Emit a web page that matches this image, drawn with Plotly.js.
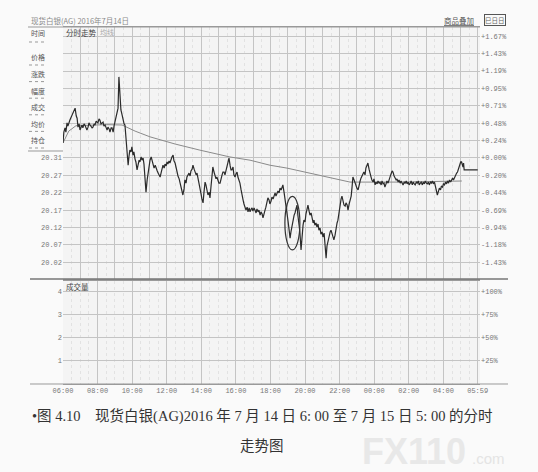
<!DOCTYPE html>
<html>
<head>
<meta charset="utf-8">
<script src="https://cdn.plot.ly/plotly-3.0.1.min.js"></script>
<style>
html,body{margin:0;padding:0;background:#fafafa;}
#chart{width:538px;height:472px;}
</style>
</head>
<body>
<div id="chart"></div>
<script>
// ---------- data ----------
const chartTitle = "现货白银(AG) 2016年7月14日";
const basePrice = 20.31;

const priceTimes = ["06:00","06:03","06:07","06:10","06:14","06:17","06:24","06:31","06:35","06:42","06:46","06:49","06:52","06:56","06:59","07:03","07:06","07:09","07:13","07:16","07:20","07:23","07:27","07:30","07:34","07:38","07:41","07:44","07:48","07:51","07:55","07:58","08:01","08:05","08:08","08:12","08:15","08:19","08:22","08:26","08:30","08:33","08:36","08:40","08:43","08:47","08:50","08:54","08:57","09:00","09:04","09:07","09:11","09:14","09:18","09:21","09:25","09:28","09:32","09:35","09:39","09:42","09:46","09:49","09:52","09:56","09:59","10:03","10:06","10:10","10:13","10:17","10:20","10:24","10:27","10:31","10:34","10:38","10:41","10:45","10:48","10:52","10:55","10:59","11:02","11:06","11:09","11:13","11:16","11:20","11:23","11:27","11:30","11:34","11:37","11:41","11:44","11:47","11:51","11:54","11:58","12:01","12:04","12:08","12:11","12:15","12:18","12:22","12:25","12:29","12:32","12:36","12:39","12:43","12:46","12:50","12:53","12:56","13:00","13:03","13:07","13:10","13:14","13:17","13:21","13:24","13:28","13:31","13:35","13:38","13:42","13:45","13:49","13:52","13:55","13:59","14:02","14:06","14:09","14:13","14:16","14:20","14:23","14:27","14:30","14:33","14:37","14:40","14:44","14:47","14:51","14:54","14:58","15:01","15:05","15:08","15:12","15:15","15:19","15:22","15:26","15:29","15:33","15:36","15:40","15:43","15:46","15:50","15:53","15:57","16:00","16:04","16:07","16:11","16:14","16:18","16:21","16:25","16:28","16:32","16:35","16:39","16:42","16:46","16:49","16:53","16:56","16:59","17:03","17:06","17:10","17:13","17:17","17:20","17:24","17:27","17:31","17:34","17:37","17:41","17:44","17:48","17:51","17:55","17:58","18:02","18:05","18:09","18:12","18:16","18:19","18:23","18:26","18:30","18:33","18:37","18:40","18:43","18:47","18:50","18:54","18:57","19:01","19:04","19:08","19:11","19:15","19:18","19:22","19:25","19:29","19:32","19:35","19:39","19:42","19:46","19:49","19:53","19:56","20:00","20:03","20:07","20:10","20:14","20:17","20:21","20:24","20:28","20:31","20:34","20:38","20:41","20:45","20:48","20:52","20:55","20:59","21:02","21:06","21:09","21:13","21:16","21:20","21:23","21:27","21:30","21:33","21:37","21:40","21:44","21:47","21:51","21:54","21:58","22:01","22:05","22:08","22:12","22:15","22:19","22:22","22:26","22:29","22:33","22:36","22:40","22:43","22:46","22:50","22:53","22:57","23:00","23:04","23:07","23:11","23:14","23:18","23:21","23:24","23:28","23:31","23:35","23:38","23:42","23:45","23:49","23:52","23:56","23:59","00:03","00:06","00:10","00:13","00:17","00:20","00:24","00:27","00:31","00:34","00:37","00:41","00:44","00:48","00:51","00:55","00:58","01:02","01:05","01:09","01:12","01:16","01:19","01:23","01:26","01:30","01:33","01:37","01:40","01:44","01:47","01:51","01:54","01:58","02:01","02:05","02:08","02:12","02:15","02:19","02:22","02:26","02:29","02:33","02:36","02:40","02:43","02:47","02:50","02:54","02:57","03:01","03:04","03:08","03:11","03:15","03:18","03:22","03:25","03:29","03:32","03:36","03:39","03:43","03:46","03:50","03:53","03:57","04:00","04:04","04:07","04:11","04:14","04:18","04:21","04:25","04:28","04:32","04:35","04:39","04:42","04:46","04:49","04:53","04:56","05:00","05:03","05:06","05:08","05:10","05:12","05:59"];

const priceValues = [20.352,20.382,20.394,20.382,20.408,20.399,20.416,20.430,20.438,20.449,20.427,20.421,20.396,20.405,20.388,20.399,20.402,20.394,20.405,20.402,20.391,20.388,20.396,20.408,20.402,20.396,20.394,20.396,20.405,20.402,20.413,20.410,20.408,20.419,20.416,20.405,20.408,20.410,20.399,20.402,20.394,20.388,20.396,20.391,20.382,20.394,20.394,20.382,20.399,20.410,20.419,20.430,20.449,20.536,20.480,20.444,20.430,20.416,20.405,20.402,20.360,20.318,20.290,20.315,20.332,20.327,20.341,20.318,20.327,20.307,20.299,20.277,20.293,20.304,20.299,20.313,20.304,20.310,20.293,20.243,20.215,20.249,20.268,20.288,20.304,20.313,20.304,20.293,20.282,20.290,20.285,20.274,20.268,20.263,20.257,20.271,20.282,20.290,20.282,20.293,20.288,20.299,20.293,20.302,20.296,20.307,20.313,20.318,20.302,20.296,20.282,20.271,20.260,20.252,20.240,20.229,20.218,20.207,20.224,20.249,20.240,20.257,20.263,20.268,20.260,20.274,20.279,20.290,20.279,20.274,20.263,20.268,20.252,20.240,20.235,20.210,20.196,20.185,20.213,20.243,20.235,20.221,20.207,20.215,20.199,20.226,20.257,20.285,20.271,20.263,20.252,20.257,20.246,20.240,20.240,20.254,20.263,20.271,20.271,20.263,20.279,20.285,20.299,20.310,20.288,20.277,20.277,20.285,20.263,20.257,20.265,20.271,20.257,20.249,20.240,20.221,20.204,20.193,20.182,20.173,20.165,20.173,20.160,20.171,20.160,20.168,20.171,20.162,20.171,20.165,20.157,20.168,20.160,20.165,20.151,20.160,20.154,20.143,20.157,20.165,20.173,20.185,20.199,20.193,20.182,20.190,20.201,20.196,20.207,20.213,20.204,20.210,20.218,20.213,20.226,20.221,20.229,20.235,20.215,20.201,20.179,20.157,20.134,20.112,20.087,20.104,20.123,20.132,20.151,20.157,20.168,20.179,20.151,20.126,20.104,20.054,20.098,20.123,20.137,20.132,20.154,20.171,20.179,20.162,20.151,20.157,20.143,20.129,20.137,20.123,20.129,20.118,20.126,20.109,20.115,20.098,20.104,20.090,20.101,20.073,20.031,20.065,20.082,20.095,20.104,20.109,20.101,20.093,20.082,20.095,20.115,20.129,20.137,20.165,20.185,20.196,20.204,20.193,20.179,20.176,20.185,20.179,20.165,20.182,20.193,20.204,20.229,20.257,20.249,20.240,20.232,20.226,20.221,20.235,20.246,20.254,20.260,20.268,20.271,20.263,20.282,20.290,20.296,20.279,20.265,20.257,20.249,20.243,20.252,20.235,20.243,20.238,20.246,20.240,20.243,20.235,20.246,20.238,20.240,20.229,20.238,20.246,20.240,20.249,20.254,20.265,20.274,20.271,20.260,20.254,20.249,20.252,20.243,20.249,20.240,20.246,20.240,20.235,20.243,20.240,20.246,20.238,20.243,20.235,20.240,20.246,20.235,20.243,20.238,20.235,20.243,20.240,20.246,20.235,20.240,20.243,20.235,20.243,20.238,20.246,20.240,20.238,20.243,20.235,20.243,20.240,20.246,20.238,20.243,20.229,20.221,20.207,20.218,20.226,20.221,20.232,20.229,20.238,20.235,20.243,20.238,20.246,20.240,20.249,20.243,20.249,20.254,20.249,20.257,20.260,20.268,20.271,20.282,20.290,20.299,20.299,20.290,20.285,20.296,20.277,20.277];

const avgTimes  = ["06:00","06:20","06:45","07:30","08:30","09:25","10:10","11:02","12:29","13:55","15:39","16:49","17:58","18:57","20:17","21:26","22:36","01:29","05:04"];
const avgValues = [20.352,20.385,20.400,20.402,20.403,20.402,20.385,20.369,20.349,20.332,20.313,20.304,20.290,20.282,20.268,20.257,20.243,20.243,20.246];

// circled area drawn by the author (time span, price span)
const markedTimes  = ["18:50","19:42"];
const markedPrices = [20.054,20.203];

const pctLabels   = ["+1.67%","+1.43%","+1.19%","+0.95%","+0.71%","+0.48%","+0.24%","+0.00%","-0.20%","-0.44%","-0.69%","-0.94%","-1.18%","-1.43%"];
const priceLabels = ["20.31","20.27","20.22","20.17","20.12","20.07","20.02"];
const timeLabels  = ["06:00","08:00","10:00","12:00","14:00","16:00","18:00","20:00","22:00","00:00","02:00","04:00","05:59"];
const volLabels   = ["1","2","3","4"];
const volPctLabels= ["+25%","+50%","+75%","+100%"];
const volumeTimes = [];
const volumeValues= [];

const sideLabels  = ["价格","涨跌","幅度","成交","均价","持仓"];
const caption1 = "•图 4.10　现货白银(AG)2016 年 7 月 14 日 6: 00 至 7 月 15 日 5: 00 的分时";
const caption2 = "走势图";

// ---------- helpers ----------
const W = 538, H = 472;
const px = x => x / W;
const py = y => 1 - y / H;
const toDate = t => (parseInt(t, 10) >= 6 ? "2016-07-14 " : "2016-07-15 ") + t;

const pTop = parseFloat(pctLabels[0]), pBot = parseFloat(pctLabels[pctLabels.length - 1]);
const pctLevels = pctLabels.map((_, k) => pTop + k * (pBot - pTop) / (pctLabels.length - 1));
const leftLevels = pctLevels.slice(pctLevels.length - priceLabels.length).map(p => basePrice * (1 + p / 100));

const priceRange = [19.973, 20.675];
const pctRange = priceRange.map(v => (v / basePrice - 1) * 100);
const xRange = ["2016-07-14 06:00", "2016-07-15 06:07"];
const volMax = 4.46;

const monoFont = {family: "Liberation Mono, DejaVu Sans Mono, monospace", size: 7, color: "#777"};
const cjkFont = (size, color) => ({family: "Noto Sans CJK SC, sans-serif", size: size, color: color});
const gridC = "#c4c4c4";

// ---------- traces ----------
const traces = [
  {x: avgTimes.map(toDate), y: avgValues, xaxis: "x", yaxis: "y", type: "scatter", mode: "lines",
   line: {color: "#8a8a8a", width: 1}, hoverinfo: "skip", showlegend: false},
  {x: priceTimes.map(toDate), y: priceValues, xaxis: "x", yaxis: "y", type: "scatter", mode: "lines",
   line: {color: "#2b2b2b", width: 1.2}, hoverinfo: "skip", showlegend: false},
  {x: [xRange[0]], y: [pctRange[0]], xaxis: "x", yaxis: "y2", type: "scatter", mode: "markers",
   marker: {opacity: 0}, hoverinfo: "skip", showlegend: false},
  {x: volumeTimes.map(toDate), y: volumeValues, xaxis: "x2", yaxis: "y3", type: "bar",
   marker: {color: "#555"}, hoverinfo: "skip", showlegend: false},
  {x: [xRange[0]], y: [0], xaxis: "x2", yaxis: "y4", type: "scatter", mode: "markers",
   marker: {opacity: 0}, hoverinfo: "skip", showlegend: false}
];

// ---------- layout ----------
const xCommon = {
  type: "date", range: xRange, domain: [px(63), px(480)],
  showgrid: true, gridcolor: gridC, gridwidth: 1,
  tick0: "2016-07-14 06:00", dtick: 3600000, ticks: "",
  minor: {dtick: 1800000, showgrid: true, gridcolor: "#e2e2e2", griddash: "dot", gridwidth: 1},
  showline: true, linecolor: "#9a9a9a", linewidth: 1, mirror: true, zeroline: false
};

const shapes = [
  {type: "line", xref: "paper", yref: "paper", x0: px(28), x1: px(480), y0: py(27), y1: py(27), line: {color: "#999", width: 1}},
  {type: "line", xref: "paper", yref: "paper", x0: px(30), x1: px(508), y0: py(279), y1: py(279), line: {color: "#777", width: 1.5}},
  {type: "line", xref: "paper", yref: "paper", x0: px(30), x1: px(508), y0: py(384), y1: py(384), line: {color: "#999", width: 1}},
  {type: "line", xref: "paper", yref: "paper", x0: px(28), x1: px(63), y0: py(151), y1: py(151), line: {color: "#999", width: 1}},
  {type: "line", xref: "paper", yref: "paper", x0: px(29), x1: px(44), y0: py(42), y1: py(42), line: {color: "#999", width: 1, dash: "dot"}},
  {type: "circle", xref: "x", yref: "y", x0: toDate(markedTimes[0]), x1: toDate(markedTimes[1]),
   y0: markedPrices[0], y1: markedPrices[1], line: {color: "#333", width: 1.2}}
];
sideLabels.forEach((_, i) => {
  const yy = 65 + i * 16.6;
  shapes.push({type: "line", xref: "paper", yref: "paper", x0: px(29), x1: px(44), y0: py(yy), y1: py(yy),
               line: {color: "#999", width: 1, dash: "dot"}});
});

const annotations = [
  // watermark, kept clear of the caption
  {xref: "paper", yref: "paper", x: px(360), y: py(451), xanchor: "left", yanchor: "middle", showarrow: false,
   text: "<b>FX110</b>", font: {family: "Liberation Sans, Arial, sans-serif", size: 36, color: "#e8e8e8"}},
  {xref: "paper", yref: "paper", x: px(470), y: py(458), xanchor: "left", yanchor: "middle", showarrow: false,
   text: ".com", font: {family: "Liberation Sans, Arial, sans-serif", size: 15, color: "#e4e4e4"}},
  // header
  {xref: "paper", yref: "paper", x: px(29), y: py(20), xanchor: "left", yanchor: "middle", showarrow: false,
   text: chartTitle, font: cjkFont(7.5, "#8a8a8a")},
  {xref: "paper", yref: "paper", x: px(442), y: py(21), xanchor: "left", yanchor: "middle", showarrow: false,
   text: "<u>商品叠加</u>", font: cjkFont(7.5, "#555")},
  {xref: "paper", yref: "paper", x: px(495), y: py(20), xanchor: "center", yanchor: "middle", showarrow: false,
   text: "巳日日", font: cjkFont(6.5, "#666"), bordercolor: "#555", borderwidth: 1, borderpad: 0},
  // panel headers
  {xref: "paper", yref: "paper", x: px(64), y: py(32.5), xanchor: "left", yanchor: "middle", showarrow: false,
   text: "分时走势", font: cjkFont(7.5, "#444")},
  {xref: "paper", yref: "paper", x: px(98), y: py(32.5), xanchor: "left", yanchor: "middle", showarrow: false,
   text: "均线", font: cjkFont(7, "#aaa")},
  {xref: "paper", yref: "paper", x: px(64), y: py(286), xanchor: "left", yanchor: "middle", showarrow: false,
   text: "成交量", font: cjkFont(7.5, "#444")},
  // info panel
  {xref: "paper", yref: "paper", x: px(29), y: py(33.5), xanchor: "left", yanchor: "middle", showarrow: false,
   text: "时间", font: cjkFont(7, "#555")},
  // caption
  {xref: "paper", yref: "paper", x: px(262), y: py(416), xanchor: "center", yanchor: "middle", showarrow: false,
   text: caption1, font: {family: "Liberation Serif, Noto Sans CJK SC, serif", size: 14.5, color: "#333"}},
  {xref: "paper", yref: "paper", x: px(262), y: py(446), xanchor: "center", yanchor: "middle", showarrow: false,
   text: caption2, font: {family: "Liberation Serif, Noto Sans CJK SC, serif", size: 14.5, color: "#333"}}
];
sideLabels.forEach((t, i) => {
  annotations.push({xref: "paper", yref: "paper", x: px(29), y: py(57.5 + i * 16.6), xanchor: "left", yanchor: "middle",
                    showarrow: false, text: t, font: cjkFont(7, "#555")});
});

const layout = {
  width: W, height: H,
  margin: {l: 0, r: 0, t: 0, b: 0, pad: 0},
  paper_bgcolor: "#fafafa", plot_bgcolor: "#f4f4f4",
  showlegend: false,
  xaxis: Object.assign({}, xCommon, {anchor: "y", showticklabels: false}),
  xaxis2: Object.assign({}, xCommon, {anchor: "y3", matches: "x",
    tickmode: "array", tickvals: timeLabels.map(toDate),
    ticktext: timeLabels, showticklabels: true, tickfont: monoFont, ticklen: 0}),
  yaxis: {domain: [py(279), py(27)], range: priceRange, anchor: "x", side: "left",
    tickmode: "array", tickvals: leftLevels, ticktext: priceLabels, tickfont: monoFont,
    showgrid: false, zeroline: false, ticks: "", showline: false},
  yaxis2: {domain: [py(279), py(27)], range: pctRange, anchor: "x", overlaying: "y", side: "right",
    tickmode: "array", tickvals: pctLevels, ticktext: pctLabels, tickfont: monoFont,
    showgrid: true, gridcolor: gridC, gridwidth: 1, zeroline: false, ticks: "", showline: false},
  yaxis3: {domain: [py(384), py(280.5)], range: [0, volMax], anchor: "x2", side: "left",
    tickmode: "array", tickvals: volLabels.map(Number), ticktext: volLabels, tickfont: monoFont,
    showgrid: true, gridcolor: gridC, zeroline: false, ticks: "", showline: false},
  yaxis4: {domain: [py(384), py(280.5)], range: [0, volMax * 25], anchor: "x2", overlaying: "y3", side: "right",
    tickmode: "array", tickvals: volPctLabels.map(s => parseFloat(s)), ticktext: volPctLabels, tickfont: monoFont,
    showgrid: false, zeroline: false, ticks: "", showline: false},
  shapes: shapes,
  annotations: annotations
};

Plotly.newPlot("chart", traces, layout, {staticPlot: true, displayModeBar: false});
</script>
</body>
</html>
